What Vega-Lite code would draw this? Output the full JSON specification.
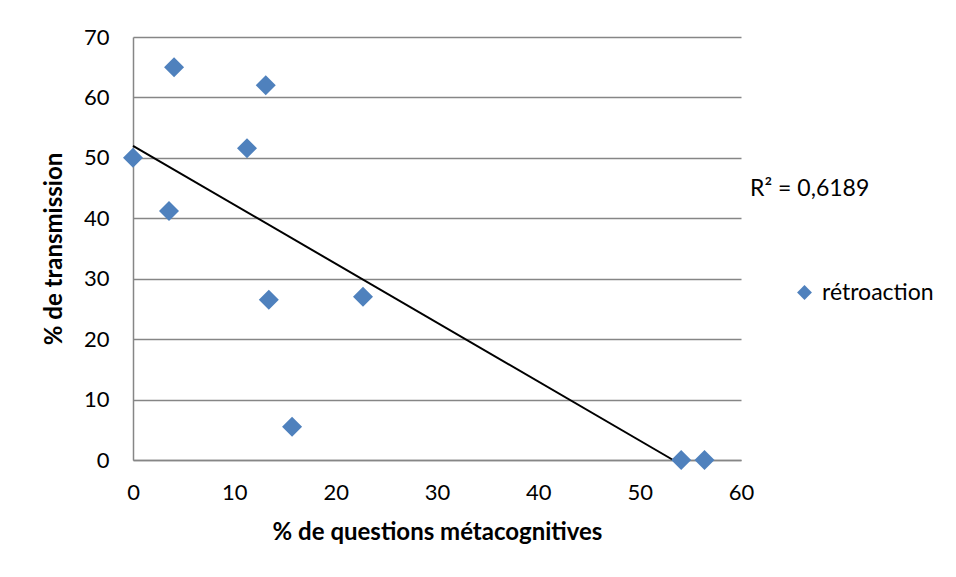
{
  "$schema": "https://vega.github.io/schema/vega-lite/v6.json",
  "autosize": "none",
  "width": 608,
  "height": 423,
  "padding": {"left": 133, "top": 37, "right": 215, "bottom": 117},
  "background": "white",
  "config": {
    "view": {"stroke": null},
    "font": "Lato",
    "axis": {
      "labelFont": "Lato",
      "titleFont": "Lato",
      "labelFontSize": 22,
      "labelColor": "black",
      "titleColor": "black",
      "titleFontSize": 24,
      "titleFontWeight": "bold",
      "domainColor": "#868686",
      "domainWidth": 1.5,
      "gridColor": "#868686",
      "gridWidth": 1.5,
      "gridOpacity": 1,
      "ticks": false
    }
  },
  "datasets": {
    "pts": [
      {"questions": 0, "transmission": 50, "serie": "rétroaction"},
      {"questions": 4.05, "transmission": 65, "serie": "rétroaction"},
      {"questions": 13.1, "transmission": 62, "serie": "rétroaction"},
      {"questions": 11.25, "transmission": 51.6, "serie": "rétroaction"},
      {"questions": 3.55, "transmission": 41.2, "serie": "rétroaction"},
      {"questions": 13.4, "transmission": 26.5, "serie": "rétroaction"},
      {"questions": 22.7, "transmission": 27, "serie": "rétroaction"},
      {"questions": 15.7, "transmission": 5.5, "serie": "rétroaction"},
      {"questions": 54.1, "transmission": 0, "serie": "rétroaction"},
      {"questions": 56.4, "transmission": 0, "serie": "rétroaction"}
    ],
    "trend": [
      {"questions": 0, "transmission": 52.0},
      {"questions": 53.3, "transmission": 0}
    ]
  },
  "layer": [
    {
      "data": {"name": "trend"},
      "mark": {"type": "line", "color": "black", "strokeWidth": 2},
      "encoding": {
        "x": {
          "field": "questions", "type": "quantitative",
          "scale": {"domain": [0, 60], "nice": false},
          "axis": {"title": "% de questions métacognitives", "values": [0, 10, 20, 30, 40, 50, 60], "grid": false, "labelPadding": 22, "titlePadding": 17, "labelFlush": false}
        },
        "y": {
          "field": "transmission", "type": "quantitative",
          "scale": {"domain": [0, 70], "nice": false},
          "axis": {"title": "% de transmission", "values": [0, 10, 20, 30, 40, 50, 60, 70], "grid": true, "labelPadding": 24, "titlePadding": 17}
        }
      }
    },
    {
      "data": {"name": "pts"},
      "mark": {"type": "point", "shape": "diamond", "filled": true, "opacity": 1, "size": 400, "clip": false},
      "encoding": {
        "x": {"field": "questions", "type": "quantitative"},
        "y": {"field": "transmission", "type": "quantitative"},
        "color": {
          "field": "serie", "type": "nominal",
          "scale": {"range": ["#4F81BD"]},
          "legend": {
            "title": null, "orient": "none", "legendX": 660, "legendY": 244,
            "symbolType": "diamond", "symbolSize": 220, "labelFontSize": 23, "labelFont": "Lato",
            "labelColor": "black", "symbolOpacity": 1, "labelOffset": 6
          }
        }
      }
    },
    {
      "data": {"values": [{"label": "R² = 0,6189"}]},
      "mark": {"type": "text", "align": "left", "baseline": "middle", "fontSize": 23, "font": "Lato", "color": "black", "clip": false},
      "encoding": {
        "x": {"datum": 60.9, "type": "quantitative"},
        "y": {"datum": 44.8, "type": "quantitative"},
        "text": {"field": "label"}
      }
    }
  ]
}
